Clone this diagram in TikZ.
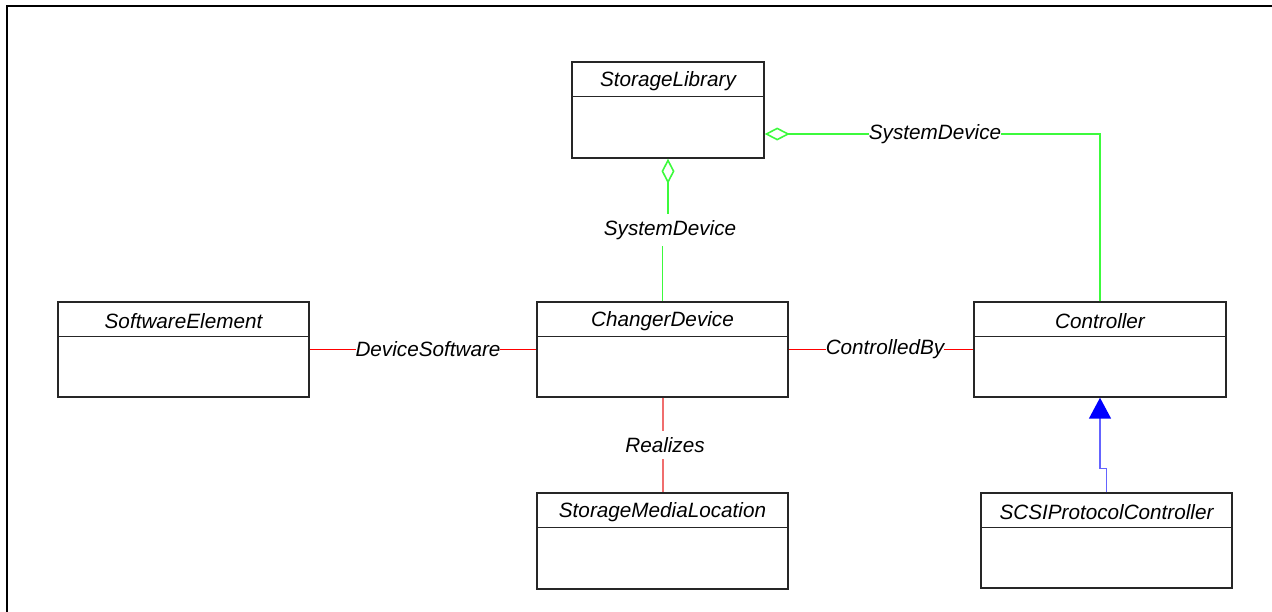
\documentclass[tikz,border=0pt]{standalone}
\usepackage{fontspec}
\setmainfont{Liberation Sans}
\usetikzlibrary{arrows.meta}
\definecolor{umlgreen}{RGB}{60,250,60}
\definecolor{umlred}{RGB}{255,0,0}
\definecolor{umlpink}{RGB}{240,110,110}
\definecolor{umlblue}{RGB}{100,100,255}
\definecolor{umltip}{RGB}{0,0,255}
\tikzset{
  umlbox/.style={draw=black!85, line width=1.4pt, inner sep=0pt, minimum width=251pt, minimum height=95pt},
  umltitle/.style={font=\fontsize{20.7}{24}\selectfont\itshape, inner sep=0pt, text=black},
  lbl/.style={font=\fontsize{20.7}{24}\selectfont\itshape, fill=white, inner xsep=0pt, inner ysep=6pt, text=black},
  gline/.style={draw=umlgreen, line width=1.6pt},
  rline/.style={draw=umlred, line width=1.5pt},
  pline/.style={draw=umlpink, line width=2pt},
  bline/.style={draw=umlblue, line width=1.5pt},
}
\newcommand{\umlclass}[4]{% name, center, options, title
  \node[umlbox,#3] (#1) at #2 {};
  \draw[black!85, line width=1.4pt] ([yshift=-35pt]#1.north west) -- ([yshift=-35pt]#1.north east);
  \node[umltitle] (#1-t) at ([yshift=-19.5pt]#1.north) {#4};
}
\begin{document}
\begin{tikzpicture}[x=1pt,y=-1pt]
\useasboundingbox (0,0) rectangle (1272,611);
\draw[line width=2.4pt] (7,612) -- (7,6) -- (1272,6);

\umlclass{SL}{(668,110)}{minimum width=192pt, minimum height=96pt}{StorageLibrary}
\umlclass{SE}{(183.5,349.5)}{}{SoftwareElement}
\umlclass{CD}{(662.5,349.5)}{}{ChangerDevice}
\umlclass{CT}{(1100,349.5)}{minimum width=252pt}{Controller}
\umlclass{SML}{(662.5,541)}{minimum height=96pt}{StorageMediaLocation}
\umlclass{SCSI}{(1106.5,540.5)}{}{SCSIProtocolController}

% aggregation SL - CD
\coordinate (jA) at (668,230);
\draw[gline, {Diamond[open,length=25pt,width=13pt]}-] (SL.south) -- (jA) -| (CD.north);
\node[lbl] (lA) at (670,230) {SystemDevice};

% aggregation SL - CT
\draw[gline, -{Diamond[open,length=25pt,width=13pt]}] (CT.north) |- ([yshift=-24pt]SL.east);
\node[lbl] (lB) at (935,134) {SystemDevice};

% DeviceSoftware
\draw[rline] (SE.east) -- (CD.west);
\node[lbl] (lC) at (428,349) {DeviceSoftware};

% ControlledBy
\draw[rline] (CD.east) -- (CT.west);
\node[lbl] (lD) at (885,349) {ControlledBy};

% Realizes
\draw[pline] (CD.south) -- (SML.north);
\node[lbl] (lE) at (665,445) {Realizes};

% inheritance
\draw[bline, -{Triangle[length=21pt,width=22pt,color=umltip,fill=umltip]}] (SCSI.north) -- ++(0,-24) -| (CT.south);
\end{tikzpicture}
\end{document}
